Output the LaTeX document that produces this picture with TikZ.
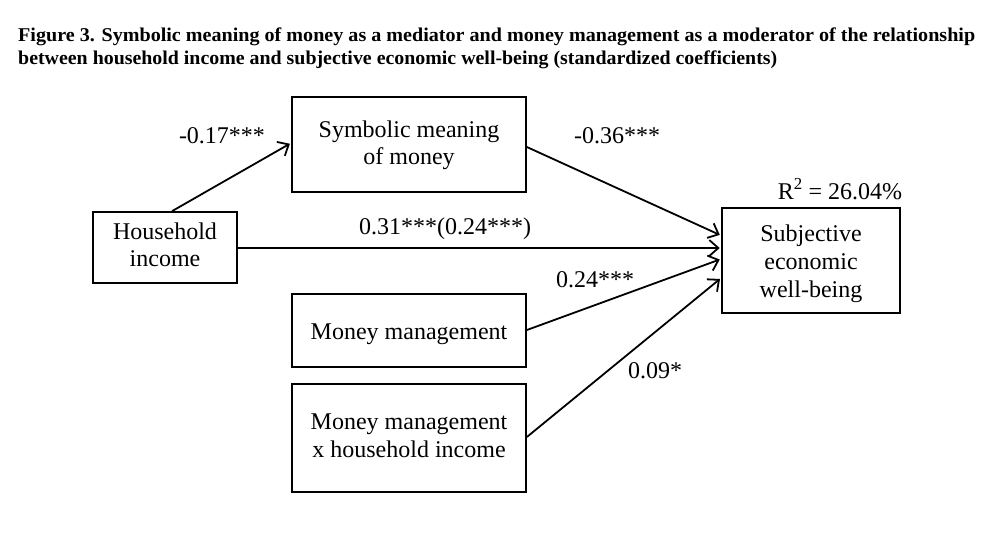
\documentclass[tikz,border=0pt]{standalone}
\usepackage{fontspec}
\setmainfont{Liberation Serif}
\usetikzlibrary{arrows.meta}
\newcommand\bt[2][0pt]{\raisebox{-#1}[\height][\depth]{\begin{tabular}{@{}c@{}}#2\end{tabular}}}
\begin{document}
\begin{tikzpicture}[x=1pt,y=-1pt,
  box/.style={draw,line width=1.7pt,inner sep=0pt,
    font=\fontsize{24}{27.8}\selectfont},
  lbl/.style={inner sep=0pt,anchor=base,font=\fontsize{24}{28}\selectfont},
  arr/.style={line width=1.8pt,-{Straight Barb[length=9pt,width=16pt,line width=1.8pt]},shorten >=1.5pt}]
\useasboundingbox (0,0) rectangle (993,542);
% title
\node[inner sep=0pt,anchor=base west] (t1) at (18,41)
  {\resizebox{957pt}{\height}{\fontsize{19.5}{23}\selectfont\bfseries Figure 3. Symbolic meaning of money as a mediator and money management as a moderator of the relationship}};
\node[inner sep=0pt,anchor=base west] (t2) at (18,64)
  {\resizebox{759pt}{\height}{\fontsize{19.5}{23}\selectfont\bfseries between household income and subjective economic well-being (standardized coefficients)}};
% boxes
\node[box,minimum width=144pt,minimum height=71pt] (hh) at (165,247.5) {\bt{Household\\income}};
\node[box,minimum width=234pt,minimum height=95pt] (sym) at (409,144.5) {\bt[1pt]{Symbolic meaning\\of money}};
\node[box,minimum width=234pt,minimum height=73pt] (mm) at (409,330.5) {\bt[3pt]{Money management}};
\node[box,minimum width=234pt,minimum height=108pt] (mmx) at (409,438) {\bt{Money management\\x household income}};
\node[box,minimum width=178pt,minimum height=105pt] (subj) at (811,260.5) {\bt[3.5pt]{Subjective\\economic\\well-being}};
% arrows
\draw[arr] ([xshift=7pt]hh.north) -- ([yshift=1.5pt]sym.west);
\draw[arr] ([yshift=-2.5pt]sym.east) -- ([yshift=25pt]subj.west);
\draw[arr] ([yshift=-0.5pt]hh.east) -- ([yshift=12.5pt]subj.west);
\draw[arr] ([yshift=0.5pt]mm.east) -- ([yshift=1.5pt]subj.west);
\draw[arr] ([yshift=1pt]mmx.east) -- ([yshift=-17.5pt]subj.west);
% labels
\node[lbl] (l1) at (222,143) {-0.17***};
\node[lbl] (l2) at (617,143) {-0.36***};
\node[lbl] (l3) at (445,234) {0.31***(0.24***)};
\node[lbl] (l4) at (595,287) {0.24***};
\node[lbl] (l5) at (655,378) {0.09*};
\node[lbl] (r2) at (840,199) {R\textsuperscript{2} = 26.04\%};
\end{tikzpicture}
\end{document}
